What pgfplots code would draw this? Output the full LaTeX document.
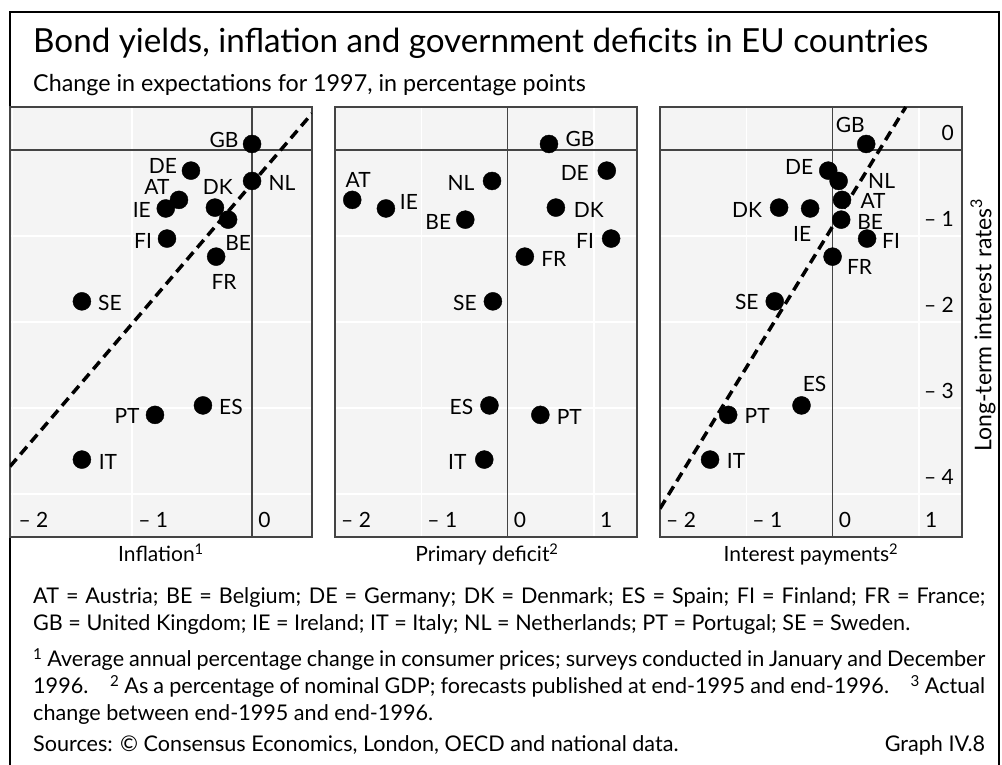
\documentclass[border=0pt]{standalone}
\usepackage{pgfplots}
\pgfplotsset{compat=1.18}
\usepackage{pgfplotstable}
\usepackage{fontspec}
\setmainfont{Lato}
\definecolor{bg}{HTML}{F4F4F4}
\definecolor{ax}{HTML}{444444}
\newcommand\lbl{\fontsize{21}{24}\selectfont}
\newcommand\fnt{\fontsize{21.6}{25}\selectfont}

% lab x y dx dy  (dx, dy: label offset from the dot, pt)
\pgfplotstableread{
lab x y dx dy
GB 0.00 0.07 -28 4
DE -0.51 -0.24 -28 5
NL 0.00 -0.36 30 -2
AT -0.61 -0.58 -22 13
IE -0.72 -0.68 -24 -2
DK -0.31 -0.67 3 21
BE -0.20 -0.81 10 -23
FI -0.71 -1.03 -24 -2
FR -0.30 -1.24 8 -25
SE -1.42 -1.76 28 -2
ES -0.41 -2.97 28 -2
PT -0.81 -3.08 -28 -1
IT -1.42 -3.60 26 -2
}\infl

\pgfplotstableread{
lab x y dx dy
GB 0.48 0.07 31 5
DE 1.15 -0.24 -32 -2
NL -0.18 -0.36 -31 -2
AT -1.80 -0.58 6 20
IE -1.41 -0.68 23 6
DK 0.56 -0.67 33 -2
BE -0.49 -0.81 -27 -2
FI 1.20 -1.03 -26 -2
FR 0.20 -1.24 29 -2
SE -0.17 -1.76 -28 -2
ES -0.21 -2.97 -28 -2
PT 0.38 -3.08 29 -2
IT -0.27 -3.60 -27 -2
}\prim

\pgfplotstableread{
lab x y dx dy
GB 0.39 0.07 -16 19
DE -0.05 -0.24 -29 4
NL 0.07 -0.36 43 0
AT 0.11 -0.58 31 -1
IE -0.26 -0.68 -8 -26
DK -0.62 -0.67 -32 -2
BE 0.10 -0.81 29 -2
FI 0.40 -1.03 24 -2
FR 0.00 -1.24 27 -10
SE -0.67 -1.76 -28 -1
ES -0.36 -2.97 13 21
PT -1.21 -3.08 29 -1
IT -1.42 -3.60 26 -1
}\intp

\pgfplotsset{
  panel/.style={
    scale only axis, width=302pt, height=430pt, anchor=south west,
    ymin=-4.5, ymax=0.5, ytick={-4,-3,-2,-1,0},
    axis background/.style={fill=bg},
    grid=major, major grid style={white, line width=1.5pt},
    axis line style={ax, line width=1.5pt},
    major tick length=0pt,
    xticklabel style={anchor=base west, inner sep=0pt, xshift=6pt, yshift=9pt, font=\lbl},
    yticklabels={},
  },
  zl/.style={ax, line width=1.5pt, forget plot},
  trend/.style={black, line width=3.5pt, dash pattern=on 10pt off 6pt},
  dots/.style={only marks, mark=*, mark size=9pt, black,
    point meta=explicit symbolic,
    visualization depends on={\thisrow{dx}\as\ldx},
    visualization depends on={\thisrow{dy}\as\ldy},
    nodes near coords,
    every node near coord/.append style={anchor=center, inner sep=0pt,
      xshift=\ldx, yshift=\ldy, font=\lbl, text=black}},
}

\begin{document}
\begin{tikzpicture}[x=1pt,y=1pt]
\useasboundingbox (0,0) rectangle (1002,765);
\draw[line width=1.5pt] (10,0) -- (10,753) -- (999,753) -- (999,0);

\node[anchor=base west, inner sep=0pt, font=\fontsize{33.2}{38}\selectfont] at (33,712)
  {Bond yields, inflation and government deficits in EU countries};
\node[anchor=base west, inner sep=0pt, font=\fontsize{23.3}{27}\selectfont] at (33,673)
  {Change in expectations for 1997, in percentage points};

% inflation
\begin{axis}[panel, at={(10pt,228pt)}, xmin=-2.02, xmax=0.5,
  xtick={-2,-1,0}, xticklabels={– 2,– 1,0}]
  \addplot[zl] coordinates {(0,-4.5) (0,0.5)};
  \addplot[zl] coordinates {(-2.02,0) (0.5,0)};
  \addplot[trend] coordinates {(-2.02,-3.68) (0.5,0.425)};
  \addplot[dots] table[x=x, y=y, meta=lab] {\infl};
\end{axis}

% primary deficit
\begin{axis}[panel, at={(335pt,228pt)}, xmin=-2, xmax=1.5,
  xtick={-2,-1,0,1}, xticklabels={– 2,– 1,0,1}]
  \addplot[zl] coordinates {(0,-4.5) (0,0.5)};
  \addplot[zl] coordinates {(-2,0) (1.5,0)};
  \addplot[dots] table[x=x, y=y, meta=lab] {\prim};
\end{axis}

% interest payments
\begin{axis}[panel, at={(660pt,228pt)}, xmin=-2, xmax=1.5,
  xtick={-2,-1,0,1}, xticklabels={– 2,– 1,0,1},
  yticklabel pos=right, yticklabels={– 4,– 3,– 2,– 1,0},
  yticklabel style={anchor=base east, inner sep=0pt, xshift=-8pt, yshift=9pt, font=\lbl}]
  \addplot[zl] coordinates {(0,-4.5) (0,0.5)};
  \addplot[zl] coordinates {(-2,0) (1.5,0)};
  \addplot[trend] coordinates {(-2,-4.17) (0.848,0.5)};
  \addplot[dots] table[x=x, y=y, meta=lab] {\intp};
\end{axis}

\node[rotate=90, inner sep=0pt, font=\fontsize{23}{26}\selectfont] at (983,440) {Long-term interest rates\textsuperscript{3}};
\node[anchor=base, inner sep=0pt, font=\fontsize{21}{24}\selectfont] at (161,203) {Inflation\textsuperscript{1}};
\node[anchor=base, inner sep=0pt, font=\fontsize{21}{24}\selectfont] at (487,203) {Primary deficit\textsuperscript{2}};
\node[anchor=base, inner sep=0pt, font=\fontsize{21}{24}\selectfont] at (811,203) {Interest payments\textsuperscript{2}};

\begin{scope}[every node/.style={anchor=base west, inner sep=0pt, font=\fnt}]
\node at (33,161) {\makebox[952pt][s]{AT = Austria; BE = Belgium; DE = Germany; DK = Denmark; ES = Spain; FI = Finland; FR = France;}};
\node at (33,134) {GB = United Kingdom; IE = Ireland; IT = Italy; NL = Netherlands; PT = Portugal; SE = Sweden.};
\node at (33,98) {\makebox[952pt][s]{\textsuperscript{1} Average annual percentage change in consumer prices; surveys conducted in January and December}};
\node at (33,71) {\makebox[952pt][s]{1996.\quad \textsuperscript{2} As a percentage of nominal GDP; forecasts published at end-1995 and end-1996.\quad \textsuperscript{3} Actual}};
\node at (33,44) {change between end-1995 and end-1996.};
\node at (33,13) {\makebox[952pt][l]{Sources: © Consensus Economics, London, OECD and national data.\hfill Graph IV.8}};
\end{scope}
\end{tikzpicture}
\end{document}
